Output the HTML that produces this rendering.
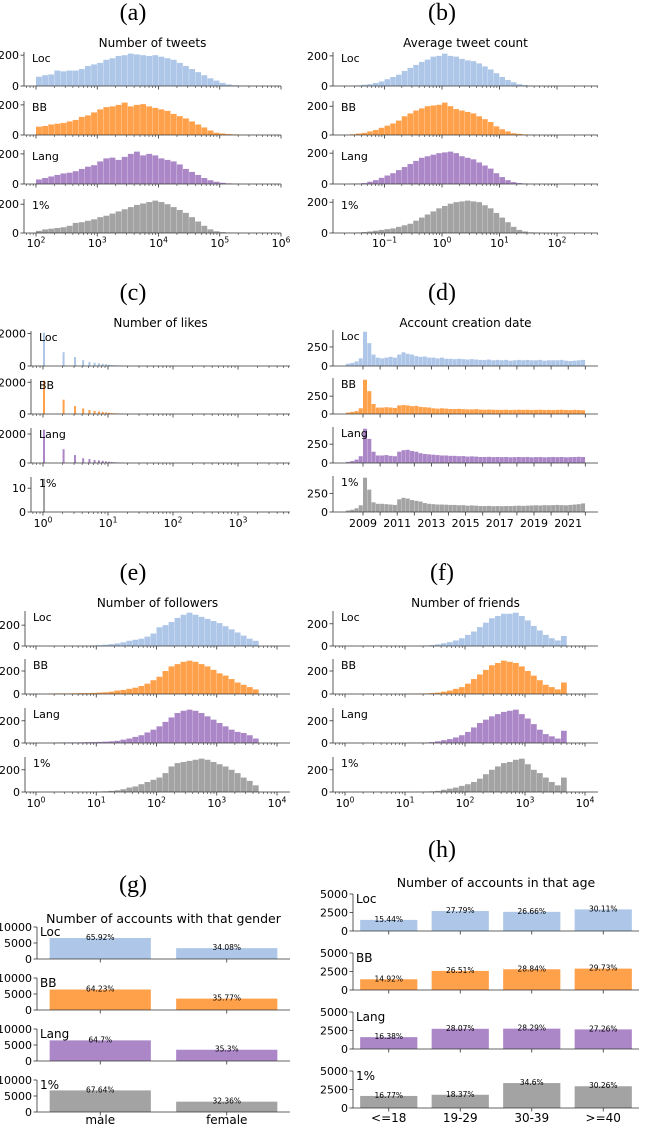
<!DOCTYPE html>
<html><head><meta charset="utf-8"><style>
html,body{margin:0;padding:0;background:#fff;}
svg{display:block;font-family:"DejaVu Sans","Liberation Sans",sans-serif;}
</style></head><body>
<svg id="chart" width="646" height="1125" viewBox="0 0 646 1125" xmlns="http://www.w3.org/2000/svg"></svg>
<script>
const seriesNames=['Loc','BB','Lang','1%'];
const colors=['#aec7e8','#ffa04a','#ab87c8','#a3a3a3'];
// (a) Number of tweets, bins of 0.1 decade from 10^2
const aLoc=[60,70,75,100,95,100,100,110,130,140,150,170,180,195,200,210,205,200,195,200,190,180,170,150,130,110,90,70,50,35,20,10,5,3,2,1];
const aBB=[55,60,70,75,80,90,100,120,130,150,170,185,190,200,215,190,200,205,190,180,170,160,140,125,110,90,70,50,30,15,10,6,4,2,1,0];
const aLang=[30,40,50,60,70,75,85,100,115,125,150,170,175,160,180,200,215,190,200,190,170,160,150,130,100,80,60,40,25,15,8,4,2,1,0,0];
const a1=[15,25,30,35,40,50,70,75,85,95,110,120,135,150,165,180,195,205,215,225,215,200,180,160,140,110,80,50,25,12,6,3,2,1,0,0];
// (b) Average tweet count, bins of 0.1 decade from 10^-1.6
const bLoc=[2,4,8,12,20,30,45,60,75,100,120,140,160,175,195,200,215,200,195,180,170,165,150,130,110,85,60,40,25,12,6,3,1];
const bBB=[5,10,15,25,35,50,65,80,100,130,150,170,185,200,205,210,225,200,180,170,160,150,130,110,90,60,40,25,12,8,4,2,1];
const bLang=[2,3,6,15,25,40,55,70,90,110,130,150,170,180,190,200,205,210,200,180,170,160,140,120,100,70,45,25,12,6,3,1,0];
const b1=[0,3,6,10,15,20,25,30,40,50,60,80,100,120,140,160,175,190,200,205,210,205,200,180,160,130,100,70,40,20,10,4,2];
// (c) Number of likes, counts at 1,2,3,...
const cLoc=[2050,850,550,360,250,200,170,130,110,80,60,50,40,30,25,20];
const cBB=[2100,900,500,350,250,200,160,130,100,80,60,45,35,30,25,20];
const cLang=[2300,950,550,330,280,200,180,150,110,90,70,50,40,30,25,20];
const c1=[14];
// (d) Account creation date, quarterly bins from 2008
const dLoc=[30,40,60,100,450,300,150,110,100,110,120,110,150,180,160,150,130,120,125,110,110,100,110,95,95,90,95,90,85,90,85,80,80,85,75,80,75,80,70,75,80,75,80,75,75,80,70,75,75,75,80,70,65,70,75,80];
const dBB=[20,30,40,80,480,320,140,90,90,95,90,85,120,125,120,110,115,100,95,90,80,75,80,75,70,70,72,68,65,65,68,62,60,62,60,58,58,60,56,58,60,58,60,56,58,60,56,58,55,58,60,56,55,58,56,52];
const dLang=[15,25,45,90,455,320,150,100,100,105,95,90,150,170,175,160,150,130,120,115,110,105,100,100,95,95,90,92,85,88,85,80,80,82,78,80,78,80,76,78,80,78,80,76,78,80,76,78,80,78,80,76,78,80,82,80];
const d1=[20,30,50,90,460,300,130,110,110,105,100,95,170,190,180,160,150,140,120,110,105,100,100,98,95,95,90,92,85,88,85,80,80,82,78,80,78,80,80,82,85,82,85,88,90,88,92,90,92,95,92,90,95,100,105,115];
// (e) Number of followers, 0.1 decade bins from 10^0
const eLoc=[0,0,0,0,0,0,0,1,2,4,8,12,18,25,35,50,60,70,90,120,180,200,230,270,300,320,300,280,260,240,220,190,160,130,100,70,50];
const eBB=[0,0,3,5,5,5,6,8,8,10,12,15,20,30,35,45,55,70,90,120,150,200,240,260,280,290,280,260,240,210,180,160,130,100,80,60,40];
const eLang=[0,0,0,3,5,5,5,6,8,8,10,12,15,20,30,40,55,70,95,120,150,190,230,270,290,300,290,270,240,210,180,150,120,100,90,70,40];
const e1=[0,0,0,0,0,0,0,0,0,2,4,6,10,15,25,40,50,70,90,110,130,170,230,260,270,280,290,300,290,270,250,230,200,170,130,100,60];
// (f) Number of friends
const fLoc=[0,0,0,0,0,0,0,0,0,0,0,0,2,4,8,15,25,35,50,70,100,130,170,210,250,270,290,290,300,270,230,180,140,100,70,50,90];
const fBB=[0,0,0,0,0,0,0,0,0,0,2,3,4,5,8,12,20,30,45,60,90,130,170,210,250,270,290,280,270,240,200,160,120,80,60,40,100];
const fLang=[0,0,0,0,0,0,0,0,0,0,2,2,3,4,8,15,25,35,50,70,100,140,180,210,240,260,280,290,300,260,220,170,120,80,60,40,110];
const f1=[0,0,0,0,0,0,0,0,0,0,0,0,2,4,6,10,20,30,40,55,70,90,120,160,200,230,260,270,290,300,250,200,170,130,90,60,130];
// (g) gender
const gCats=['male','female'];
const gCounts=[[6560,3400],[6400,3560],[6450,3520],[6750,3230]];
const gPct=[['65.92%','34.08%'],['64.23%','35.77%'],['64.7%','35.3%'],['67.64%','32.36%']];
// (h) age
const hCats=['<=18','19-29','30-39','>=40'];
const hCounts=[[1500,2700,2590,2920],[1450,2580,2800,2890],[1600,2730,2750,2650],[1630,1790,3370,2940]];
const hPct=[['15.44%','27.79%','26.66%','30.11%'],['14.92%','26.51%','28.84%','29.73%'],['16.38%','28.07%','28.29%','27.26%'],['16.77%','18.37%','34.6%','30.26%']];

const NS='http://www.w3.org/2000/svg';
const svg=document.getElementById('chart');
function mk(tag,attrs,parent){const e=document.createElementNS(NS,tag);for(const k in attrs)e.setAttribute(k,attrs[k]);(parent||svg).appendChild(e);return e;}
function txt(x,y,s,size,anchor,parent,family){const t=mk('text',{x:x,y:y,'font-size':size,'text-anchor':anchor||'middle',fill:'#000'},parent);if(family)t.setAttribute('font-family',family);t.textContent=s;return t;}
function powLabel(x,y,exp,parent){const t=mk('text',{x:x,y:y,'font-size':11,'text-anchor':'middle',fill:'#000'},parent);t.appendChild(document.createTextNode('10'));const sp=mk('tspan',{dy:-4.5,'font-size':7.5},t);sp.textContent=exp;return t;}

function frame(g,axL,axR,base,h){
  const l1=mk('line',{x1:axL,y1:base-h,x2:axL,y2:base,stroke:'#333','stroke-width':0.8},g);
  
  
  const l2=mk('line',{x1:axL,y1:base,x2:axR,y2:base,stroke:'#333','stroke-width':0.8},g);
  
  
}
function yTicks(g,axL,base,h,ymax,ticks){
  ticks.forEach(t=>{ if(t>ymax) return; const y=base-t/ymax*h;
    mk('line',{x1:axL-3.5,y1:y,x2:axL,y2:y,stroke:'#333','stroke-width':0.8},g);
    const lb=txt(axL-5,y+4,String(t),11,'end',g);
    
    
  });
}

function histPanel(p){
  const G=mk('g',{});
  
  
  const lt=txt(p.letterX,p.py+20,p.letter,24,'middle',G,'"Liberation Serif",serif');
  
  
  const tt=txt((p.axL+p.axR)/2,p.py+47,p.title,12,'middle',G);
  
  
  p.series.forEach((arr,i)=>{
    const base=p.bases[i], h=p.h;
    const g=mk('g',{},G);
    
    
    const ymax=Math.max(...arr)*1.05;
    arr.forEach((v,j)=>{
      let x0,x1;
      if(p.discrete){x0=p.xmap(Math.log10(j+1));x1=p.xmap(Math.log10(j+1)+0.035);}
      else{x0=p.xmap(p.binStart+j*p.binW);x1=p.xmap(p.binStart+(j+1)*p.binW);}
      const hh=v/ymax*h; if(hh<=0) return;
      const r=mk('rect',{x:x0,y:base-hh,width:Math.max(x1-x0-0.25,0.6),height:hh,fill:colors[i]},g);
      
      
    });
    frame(g,p.axL,p.axR,base,h);
    yTicks(g,p.axL,base,h,ymax,p.yticks[i]);
    p.major.forEach(m=>{const x=p.xmap(m.v);mk('line',{x1:x,y1:base,x2:x,y2:base+3.5,stroke:'#333','stroke-width':0.8},g);
      if(i===3){const lb=m.exp!==undefined?powLabel(x,p.py+247,m.exp,g):txt(x,p.py+247,m.label,11,'middle',g);
        
        }});
    (p.minor||[]).forEach(v=>{const x=p.xmap(v);if(x<p.axL||x>p.axR)return;mk('line',{x1:x,y1:base,x2:x,y2:base+2,stroke:'#333','stroke-width':0.6},g);});
    const sl=txt(p.axL+8,base-h+10,seriesNames[i],11,'start',g);
    
    
  });
}
function minorLog(a,b){const r=[];for(let n=a;n<=b;n++)for(let k=2;k<=9;k++)r.push(n+Math.log10(k));return r;}
function majors(a,b){const r=[];for(let n=a;n<=b;n++)r.push({v:n,exp:(n<0?'\u2212'+(-n):String(n))});return r;}

histPanel({name:'panel-a-tweets',letter:'(a)',letterX:133,py:0,title:'Number of tweets',axL:24,axR:281,
  xmap:v=>36+(v-2)*61.25,bases:[86,135,184,233],h:34,series:[aLoc,aBB,aLang,a1],binStart:2,binW:0.1,
  yticks:[[0,200],[0,200],[0,200],[0,200]],major:majors(2,6),minor:minorLog(1,5)});
histPanel({name:'panel-b-avg-tweets',letter:'(b)',letterX:442,py:0,title:'Average tweet count',axL:333,axR:598,
  xmap:v=>442+v*57.5,bases:[86,135,184,233],h:34,series:[bLoc,bBB,bLang,b1],binStart:-1.6,binW:0.1,
  yticks:[[0,200],[0,200],[0,200],[0,200]],major:majors(-1,2),minor:minorLog(-2,2)});
histPanel({name:'panel-c-likes',letter:'(c)',letterX:133,py:280,title:'Number of likes',axL:31,axR:290,
  xmap:v=>43+v*65,bases:[366,414,463,512],h:35,series:[cLoc,cBB,cLang,c1],discrete:true,
  yticks:[[0,2000],[0,2000],[0,2000],[0,10]],major:majors(0,3),minor:minorLog(-1,3)});
const yrs=[];for(let y=2009;y<=2022;y++)yrs.push({v:y,label:(y%2===1&&y<=2021)?String(y):''});
histPanel({name:'panel-d-creation-date',letter:'(d)',letterX:442,py:280,title:'Account creation date',axL:333,axR:598,
  xmap:v=>363+(v-2009)*17.1,bases:[366,414,463,512],h:36,series:[dLoc,dBB,dLang,d1],binStart:2008,binW:0.25,
  yticks:[[0,250],[0,250],[0,250],[0,250]],major:yrs,minor:[]});
histPanel({name:'panel-e-followers',letter:'(e)',letterX:133,py:560,title:'Number of followers',axL:25,axR:290,
  xmap:v=>36+v*60.25,bases:[646,694,743,792],h:35,series:[eLoc,eBB,eLang,e1],binStart:0,binW:0.1,
  yticks:[[0,200],[0,200],[0,200],[0,200]],major:majors(0,4),minor:minorLog(-1,4)});
histPanel({name:'panel-f-friends',letter:'(f)',letterX:442,py:560,title:'Number of friends',axL:333,axR:598,
  xmap:v=>345+v*60,bases:[646,694,743,792],h:35,series:[fLoc,fBB,fLang,f1],binStart:0,binW:0.1,
  yticks:[[0,200],[0,200],[0,200],[0,200]],major:majors(0,4),minor:minorLog(-1,4)});

function barPanel(p){
  const G=mk('g',{});
  
  
  const lt=txt(p.letterX,p.letterY,p.letter,24,'middle',G,'"Liberation Serif",serif');
  
  
  const tt=txt((p.axL+p.axR)/2,p.titleY,p.title,12.5,'middle',G);
  
  
  const n=p.cats.length, step=(p.axR-p.axL)/n, bw=step*0.8;
  p.counts.forEach((row,i)=>{
    const base=p.bases[i],h=p.h;
    const g=mk('g',{},G);
    
    
    row.forEach((v,j)=>{
      const cx=p.axL+step*(j+0.5), hh=v/p.ymax*h;
      const r=mk('rect',{x:cx-bw/2,y:base-hh,width:bw,height:hh,fill:colors[i]},g);
      
      
      const pl=txt(cx,base-hh+2,p.pct[i][j],7.5,'middle',g);
      
      
      mk('line',{x1:cx,y1:base,x2:cx,y2:base+3.5,stroke:'#333','stroke-width':0.8},g);
      if(i===3){const cl=txt(cx,p.catY,p.cats[j],12,'middle',g);
        
        }
    });
    frame(g,p.axL,p.axR,base,h);
    yTicks(g,p.axL,base,h,p.ymax,p.yticks);
    const sl=txt(p.axL+3,base-h+9,seriesNames[i],12,'start',g);
    
    
  });
}
barPanel({name:'panel-g-gender',letter:'(g)',letterX:133,letterY:892,title:'Number of accounts with that gender',titleY:923,
  axL:37,axR:290,bases:[959,1010,1061,1112],h:32,ymax:10000,cats:gCats,counts:gCounts,pct:gPct,yticks:[0,5000,10000],catY:1124});
barPanel({name:'panel-h-age',letter:'(h)',letterX:442,letterY:857,title:'Number of accounts in that age',titleY:887,
  axL:353,axR:639,bases:[931,990,1049,1108],h:37,ymax:5000,cats:hCats,counts:hCounts,pct:hPct,yticks:[0,2500,5000],catY:1122});
</script>
</body></html>
